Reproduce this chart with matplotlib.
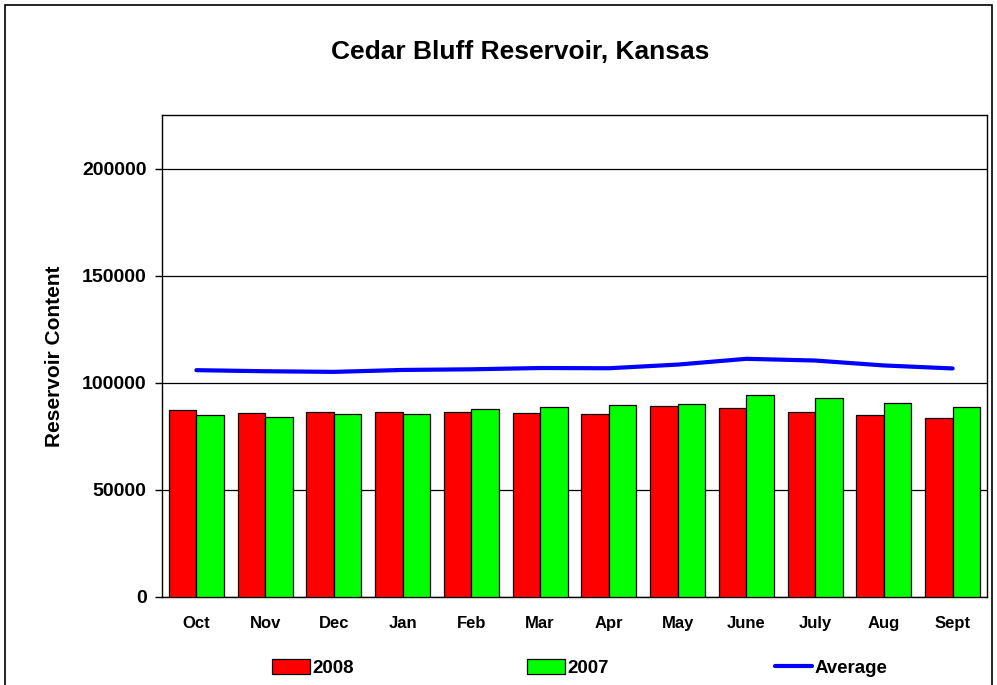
"""Cedar Bluff Reservoir content: 2008 vs 2007 bars with long-term average line."""

import matplotlib

matplotlib.use("Agg")
import matplotlib.pyplot as plt
from matplotlib.lines import Line2D
from matplotlib.patches import Patch, Rectangle
import numpy as np

plt.rcParams["font.family"] = ["Liberation Sans", "DejaVu Sans"]
plt.rcParams["font.weight"] = "bold"

MONTHS = ["Oct", "Nov", "Dec", "Jan", "Feb", "Mar",
          "Apr", "May", "June", "July", "Aug", "Sept"]
CONTENT_2008 = [87400, 86100, 86600, 86600, 86600, 86100,
                85500, 89100, 88300, 86400, 85000, 83500]
CONTENT_2007 = [84900, 83900, 85200, 85500, 87800, 88900,
                89700, 90200, 94400, 93000, 90800, 88800]
AVERAGE = [105900, 105400, 105100, 106000, 106300, 106900,
           106800, 108500, 111200, 110400, 108100, 106700]
Y_TICKS = [0, 50000, 100000, 150000, 200000]

RED = "#FF0000"
GREEN = "#00FF00"
BLUE = "#0000FF"


def main() -> int:
    fig = plt.figure(figsize=(9.97, 6.85), dpi=100)
    ax = fig.add_axes([0.1625, 0.1285, 0.8275, 0.7035])

    x = np.arange(len(MONTHS))
    width = 0.4
    ax.bar(x - width / 2, CONTENT_2008, width, color=RED,
           edgecolor="black", linewidth=0.9, zorder=3)
    ax.bar(x + width / 2, CONTENT_2007, width, color=GREEN,
           edgecolor="black", linewidth=0.9, zorder=3)
    ax.plot(x, AVERAGE, color=BLUE, linewidth=3, zorder=4,
            solid_capstyle="round")

    ax.set_xlim(-0.5, len(MONTHS) - 0.5)
    ax.set_ylim(0, 225000)
    ax.set_yticks(Y_TICKS)
    ax.set_yticklabels([str(v) for v in Y_TICKS], fontsize=14, fontweight="bold")
    ax.set_xticks(x)
    ax.set_xticklabels(MONTHS, fontsize=12, fontweight="bold")
    ax.tick_params(axis="x", length=0, pad=14)
    ax.tick_params(axis="y", length=5, width=1, pad=6, direction="out")
    ax.yaxis.grid(True, color="black", linewidth=0.9, zorder=0)
    ax.set_axisbelow(True)
    for spine in ax.spines.values():
        spine.set_color("black")
        spine.set_linewidth(1)

    ax.set_ylabel("Reservoir Content", fontsize=15, fontweight="bold",
                  labelpad=13)

    fig.text(0.522, 0.924, "Cedar Bluff Reservoir, Kansas", fontsize=19,
             fontweight="bold", ha="center", va="center")

    # outer chart border
    fig.patches.append(Rectangle((5 / 997, -0.02), 987 / 997, 1 - 5 / 685 + 0.02,
                                 transform=fig.transFigure, fill=False,
                                 edgecolor="black", linewidth=1.2))

    # legend entries placed individually, as in the spreadsheet layout
    entries = [
        (Patch(facecolor=RED, edgecolor="black", linewidth=0.9), "2008", 0.273),
        (Patch(facecolor=GREEN, edgecolor="black", linewidth=0.9), "2007", 0.529),
        (Line2D([0], [0], color=BLUE, linewidth=3, solid_capstyle="round"),
         "Average", 0.777),
    ]
    for handle, label, xpos in entries:
        fig.legend([handle], [label], loc="center left",
                   bbox_to_anchor=(xpos, 1 - 668 / 685), frameon=False,
                   prop={"size": 13.5, "weight": "bold"}, handlelength=2.0,
                   handleheight=0.85, handletextpad=0.15, borderpad=0,
                   borderaxespad=0)

    fig.savefig("out.png", dpi=100)
    plt.close(fig)
    return 0


if __name__ == "__main__":
    raise SystemExit(main())
